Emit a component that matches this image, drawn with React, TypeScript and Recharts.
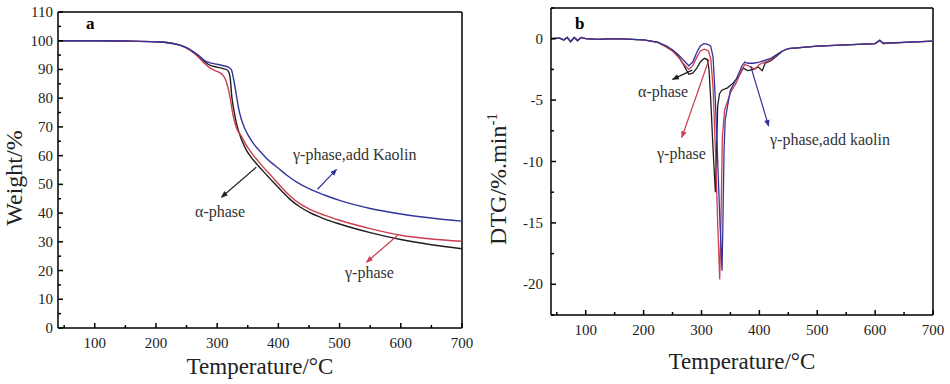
import { LineChart, Line, XAxis, YAxis, ReferenceLine } from 'recharts';

// TGA curves, [temperature °C, weight %]
const tgaAlpha = [
    [40, 100], [100, 100], [150, 99.9], [200, 99.6], [220, 99.3], [240, 98.4], [250, 97.5],
    [260, 96.2], [270, 94.6], [280, 92.6], [290, 91.3], [300, 90.8], [310, 90.3], [317, 89.7],
    [321, 87.5], [324, 80.4], [328, 75], [333, 70], [340, 65.5], [347, 62.2], [355, 59.6],
    [365, 57], [375, 54.6], [390, 51.2], [405, 47.8], [420, 44.6], [435, 42.2], [450, 40.3],
    [475, 38], [500, 36.2], [550, 33.2], [600, 30.8], [650, 29], [700, 27.6],
];
const tgaGamma = [
    [40, 100], [100, 100], [150, 99.9], [200, 99.6], [220, 99.3], [240, 98.4], [250, 97.4],
    [260, 96], [270, 94.2], [280, 92], [290, 90.3], [300, 89.3], [308, 88.3], [312, 87.2],
    [316, 85], [321, 80.4], [326, 74], [331, 70], [340, 66.6], [347, 63.8], [355, 61.3],
    [365, 58.6], [375, 56.1], [390, 52.6], [405, 49], [420, 45.8], [435, 43.3], [450, 41.5],
    [475, 39.3], [500, 37.5], [550, 34.6], [600, 32.3], [650, 31], [700, 30.2],
];
const tgaKaolin = [
    [40, 100], [100, 100], [150, 99.9], [200, 99.6], [220, 99.3], [240, 98.4], [250, 97.6],
    [260, 96.3], [270, 94.8], [280, 93], [290, 92.2], [300, 91.8], [310, 91.3], [318, 90.8],
    [323, 90], [327, 86.5], [331, 81.6], [335, 76.5], [339, 73], [345, 69.5], [352, 66.6],
    [360, 64], [370, 61.5], [380, 59.2], [390, 57.3], [400, 55.6], [415, 53], [430, 50.8],
    [450, 48.5], [475, 46.3], [500, 44.4], [550, 41.6], [600, 39.7], [650, 38.3], [700, 37.2],
];

// DTG curves, [temperature °C, %/min]
const dtgAlpha = [
    [40, 0], [55, 0.05], [62, -0.1], [68, 0.1], [74, -0.25], [80, 0.1], [86, -0.15], [92, 0.1],
    [100, 0], [120, -0.05], [150, 0], [200, -0.1], [225, -0.3], [240, -0.7], [250, -1.0],
    [260, -1.4], [270, -2.2], [278, -2.9], [285, -2.8], [292, -2.4], [298, -1.9], [305, -1.6],
    [310, -1.7], [313, -2.5], [316, -5], [320, -9], [324, -12.5], [326, -9], [328, -5.5],
    [331, -4.5], [335, -4.2], [345, -4.0], [355, -3.6], [365, -3], [372, -2.4], [380, -2.6],
    [390, -2.5], [398, -2.3], [405, -2.6], [410, -2.0], [420, -1.8], [430, -1.4], [440, -1.0],
    [450, -0.8], [500, -0.6], [550, -0.5], [600, -0.4], [608, -0.15], [614, -0.4], [650, -0.3],
    [700, -0.2],
];
const dtgGamma = [
    [40, 0], [55, 0.05], [62, -0.1], [68, 0.1], [74, -0.25], [80, 0.1], [86, -0.15], [92, 0.1],
    [100, 0], [120, -0.05], [150, 0], [200, -0.1], [225, -0.3], [240, -0.7], [250, -1.0],
    [260, -1.5], [270, -2.1], [278, -2.5], [285, -2.2], [292, -1.5], [298, -1.0], [305, -0.85],
    [312, -1.0], [316, -1.6], [320, -4], [324, -9], [328, -15], [331.5, -19.6], [334, -14],
    [336, -8], [340, -5.8], [350, -4.4], [360, -3.6], [370, -2.5], [375, -2.1], [385, -2.3],
    [392, -2.5], [400, -2.1], [410, -1.9], [420, -1.7], [430, -1.3], [440, -1.0], [450, -0.8],
    [500, -0.6], [550, -0.5], [600, -0.4], [608, -0.15], [614, -0.4], [650, -0.3], [700, -0.2],
];
const dtgKaolin = [
    [40, 0], [55, 0.05], [62, -0.1], [68, 0.1], [74, -0.25], [80, 0.1], [86, -0.15], [92, 0.1],
    [100, 0], [120, -0.05], [150, 0], [200, -0.1], [225, -0.3], [240, -0.6], [250, -0.9],
    [260, -1.3], [270, -1.8], [278, -2.2], [285, -1.9], [292, -1.1], [298, -0.6], [304, -0.4],
    [310, -0.45], [316, -0.6], [320, -1.5], [324, -5], [328, -10], [332, -15], [335.5, -18.9],
    [337, -15], [339, -9], [341, -6.6], [345, -5.5], [350, -4.2], [360, -3.3], [370, -2.2],
    [375, -1.9], [380, -2.0], [390, -2.0], [400, -1.9], [420, -1.6], [430, -1.3], [440, -1.0],
    [450, -0.8], [500, -0.6], [550, -0.5], [600, -0.4], [608, -0.12], [614, -0.35], [650, -0.3],
    [700, -0.2],
];

const tempTicks = [50, 100, 150, 200, 250, 300, 350, 400, 450, 500, 550, 600, 650, 700];
const weightTicks = [0, 5, 10, 15, 20, 25, 30, 35, 40, 45, 50, 55, 60, 65, 70, 75, 80, 85, 90, 95, 100, 105, 110];
const dtgTicks = [-22.5, -20, -17.5, -15, -12.5, -10, -7.5, -5, -2.5, 0, 2.5];

const BLACK = '#1e1e1e';
const RED = '#cc3d4f';
const BLUE = '#34349e';
const FONT = '"Liberation Serif", "Times New Roman", serif';

const toPts = (arr: number[][]) => arr.map(([t, v]) => ({ t, v }));

const XTick = ({ x, y, payload, step }: any) => {
    const major = payload.value % step === 0;
    return (
        <g>
            <line x1={x} x2={x} y1={y} y2={y - (major ? 5 : 3)} stroke="#000" strokeWidth={1.5} />
            {major && (
                <text x={x} y={y + 20} textAnchor="middle" fontSize={15} fontFamily={FONT} fill="#222">
                    {payload.value}
                </text>
            )}
        </g>
    );
};

const YTick = ({ x, y, payload, step, gap }: any) => {
    const major = payload.value % step === 0;
    return (
        <g>
            <line x1={x} x2={x + (major ? 5 : 3)} y1={y} y2={y} stroke="#000" strokeWidth={1.5} />
            {major && (
                <text x={x - gap} y={y + 5} textAnchor="end" fontSize={15} fontFamily={FONT} fill="#222">
                    {payload.value}
                </text>
            )}
        </g>
    );
};

const lbl = { fontFamily: FONT, fontSize: 16, fill: '#333' };
const axisStroke = { stroke: '#000', strokeWidth: 1.5 };

export default function App() {
    return (
        <div style={{ position: 'absolute', left: 0, top: 0, width: 950, height: 384, background: '#fff' }}>
            <svg width={0} height={0} style={{ position: 'absolute' }}>
                <defs>
                    {[['k', BLACK], ['r', RED], ['b', BLUE]].map(([id, c]) => (
                        <marker key={id} id={`ah-${id}`} viewBox="0 0 10 10" refX="9" refY="5"
                            markerWidth="7" markerHeight="7" markerUnits="userSpaceOnUse" orient="auto">
                            <path d="M0,1 L10,5 L0,9 z" fill={c} />
                        </marker>
                    ))}
                </defs>
            </svg>

            <div style={{ position: 'absolute', left: 0, top: 0 }}>
                <LineChart width={475} height={384} margin={{ top: 12, right: 13, bottom: 55, left: 57 }}>
                    <XAxis dataKey="t" type="number" domain={[40, 700]} allowDataOverflow ticks={tempTicks}
                        height={1} tickSize={0} tickMargin={0} tickLine={false} interval={0}
                        axisLine={axisStroke}
                        tick={(p: any) => <XTick {...p} step={100} />} />
                    <YAxis type="number" domain={[0, 110]} allowDataOverflow ticks={weightTicks}
                        width={1} tickSize={0} tickMargin={0} tickLine={false} interval={0}
                        axisLine={axisStroke}
                        tick={(p: any) => <YTick {...p} step={10} gap={5} />} />
                    <ReferenceLine x={700} stroke="#000" strokeWidth={1.5} />
                    <ReferenceLine y={110} stroke="#000" strokeWidth={1.5} />
                    <Line data={toPts(tgaAlpha)} dataKey="v" type="monotone" stroke={BLACK} strokeWidth={1.4} dot={false} isAnimationActive={false} />
                    <Line data={toPts(tgaGamma)} dataKey="v" type="monotone" stroke={RED} strokeWidth={1.4} dot={false} isAnimationActive={false} />
                    <Line data={toPts(tgaKaolin)} dataKey="v" type="monotone" stroke={BLUE} strokeWidth={1.4} dot={false} isAnimationActive={false} />
                    <ReferenceLine segment={[{ x: 464, y: 48.3 }, { x: 495, y: 55.2 }]} stroke={BLUE} strokeWidth={1.2} markerEnd="url(#ah-b)" />
                    <ReferenceLine segment={[{ x: 364, y: 56 }, { x: 307, y: 45.5 }]} stroke={BLACK} strokeWidth={1.2} markerEnd="url(#ah-k)" />
                    <ReferenceLine segment={[{ x: 595, y: 32.3 }, { x: 544, y: 22.9 }]} stroke={RED} strokeWidth={1.2} markerEnd="url(#ah-r)" />
                </LineChart>
            </div>

            <div style={{ position: 'absolute', left: 475, top: 0 }}>
                <LineChart width={475} height={384} margin={{ top: 8, right: 17, bottom: 68, left: 75 }}>
                    <XAxis dataKey="t" type="number" domain={[40, 700]} allowDataOverflow ticks={tempTicks}
                        height={1} tickSize={0} tickMargin={0} tickLine={false} interval={0}
                        axisLine={axisStroke}
                        tick={(p: any) => <XTick {...p} step={100} />} />
                    <YAxis type="number" domain={[-22.5, 2.5]} allowDataOverflow ticks={dtgTicks}
                        width={1} tickSize={0} tickMargin={0} tickLine={false} interval={0}
                        axisLine={axisStroke}
                        tick={(p: any) => <YTick {...p} step={5} gap={8} />} />
                    <ReferenceLine x={700} stroke="#000" strokeWidth={1.5} />
                    <ReferenceLine y={2.5} stroke="#000" strokeWidth={1.5} />
                    <Line data={toPts(dtgAlpha)} dataKey="v" type="linear" stroke={BLACK} strokeWidth={1.3} dot={false} isAnimationActive={false} />
                    <Line data={toPts(dtgGamma)} dataKey="v" type="linear" stroke={RED} strokeWidth={1.3} dot={false} isAnimationActive={false} />
                    <Line data={toPts(dtgKaolin)} dataKey="v" type="linear" stroke={BLUE} strokeWidth={1.3} dot={false} isAnimationActive={false} />
                    <ReferenceLine segment={[{ x: 284, y: -2.56 }, { x: 250, y: -3.31 }]} stroke={BLACK} strokeWidth={1.2} markerEnd="url(#ah-k)" />
                    <ReferenceLine segment={[{ x: 313, y: -1.69 }, { x: 266, y: -8.04 }]} stroke={RED} strokeWidth={1.2} markerEnd="url(#ah-r)" />
                    <ReferenceLine segment={[{ x: 385, y: -2.23 }, { x: 416, y: -7.12 }]} stroke={BLUE} strokeWidth={1.2} markerEnd="url(#ah-b)" />
                </LineChart>
            </div>

            <svg width={950} height={384} style={{ position: 'absolute', left: 0, top: 0, pointerEvents: 'none' }}>
                <text x={86} y={29} fontFamily={FONT} fontSize={17} fontWeight="bold">a</text>
                <text x={293} y={160} {...lbl}>γ-phase,add Kaolin</text>
                <text x={195} y={217} {...lbl}>α-phase</text>
                <text x={345} y={278} {...lbl}>γ-phase</text>
                <text x={260} y={374} textAnchor="middle" fontFamily={FONT} fontSize={23} fill="#222">Temperature/°C</text>
                <text transform="translate(22,178) rotate(-90)" textAnchor="middle" fontFamily={FONT} fontSize={24} fill="#222">Weight/%</text>

                <text x={575} y={29} fontFamily={FONT} fontSize={17} fontWeight="bold">b</text>
                <text x={638} y={97} {...lbl}>α-phase</text>
                <text x={657} y={159} {...lbl}>γ-phase</text>
                <text x={770} y={145} {...lbl}>γ-phase,add kaolin</text>
                <text x={742} y={369} textAnchor="middle" fontFamily={FONT} fontSize={23} fill="#222">Temperature/°C</text>
                <text transform="translate(506,179) rotate(-90)" textAnchor="middle" fontFamily={FONT} fontSize={24} fill="#222">
                    DTG/%.min<tspan dy={-9} fontSize={15}>-1</tspan>
                </text>
            </svg>
        </div>
    );
}
